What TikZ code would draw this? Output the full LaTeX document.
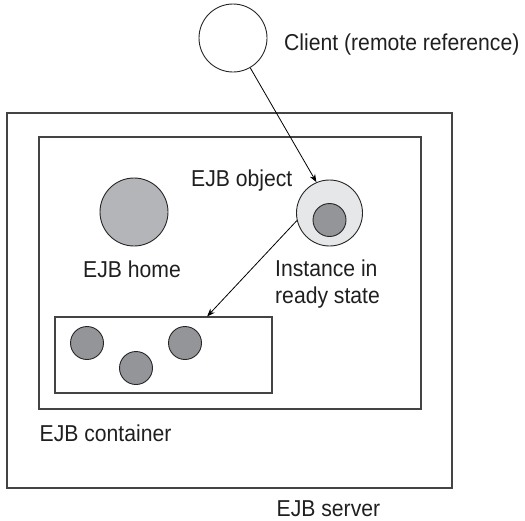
\documentclass[tikz,border=0pt]{standalone}
\usepackage{fontspec}
\setmainfont{Liberation Sans}[FakeStretch=0.92]
\usetikzlibrary{arrows.meta,calc}
\definecolor{boxline}{HTML}{444444}
\definecolor{homefill}{HTML}{B4B5B8}
\definecolor{beanfill}{HTML}{939598}
\definecolor{objfill}{HTML}{E6E7E8}
\begin{document}
\begin{tikzpicture}[x=1pt,y=-1pt,
  box/.style={draw=boxline,line width=1.1pt,rectangle,inner sep=0pt},
  ball/.style={draw=black!85,line width=0.9pt,circle,inner sep=0pt},
  lbl/.style={anchor=base west,inner sep=0pt,font=\fontsize{23}{28}\selectfont,text=black!88},
  conn/.style={draw=black,line width=0.8pt,-{Stealth[length=8pt,width=6pt]}}]
\useasboundingbox (0,0) rectangle (525,520);
% boxes
\node[box,minimum width=445pt,minimum height=375pt] (server) at (229.5,300.5) {};
\node[box,minimum width=382pt,minimum height=272pt] (container) at (230,273) {};
\node[box,minimum width=217pt,minimum height=76pt] (pool) at (163.5,355) {};
% circles
\node[ball,minimum size=68pt] (client) at (233,38) {};
\node[ball,minimum size=68pt,fill=homefill] (home) at (134,212) {};
\node[ball,minimum size=66pt,fill=objfill] (obj) at (329.5,213) {};
\node[ball,minimum size=33pt,fill=beanfill] (inst) at (329.5,220) {};
\node[ball,minimum size=33pt,fill=beanfill] (b1) at (87,343) {};
\node[ball,minimum size=33pt,fill=beanfill] (b2) at (136,368) {};
\node[ball,minimum size=33pt,fill=beanfill] (b3) at (185,343) {};
% labels
\node[lbl] (lclient) at (284,50.5) {Client (remote reference)};
\node[lbl] (lobj) at (191,186) {EJB object};
\node[lbl] (lhome) at (83,277) {EJB home};
\node[lbl] (linst1) at (275,276) {Instance in};
\node[lbl] (linst2) at (275,303) {ready state};
\node[lbl] (lcont) at (39.5,441) {EJB container};
\node[lbl] (lserv) at (276.5,516) {EJB server};
% connectors
\coordinate (pooltip) at ($(pool.north west)!0.7!(pool.north east)$);
\draw[conn] (client) -- (obj.113);
\draw[conn] (obj.193) -- (pooltip);
\end{tikzpicture}
\end{document}
